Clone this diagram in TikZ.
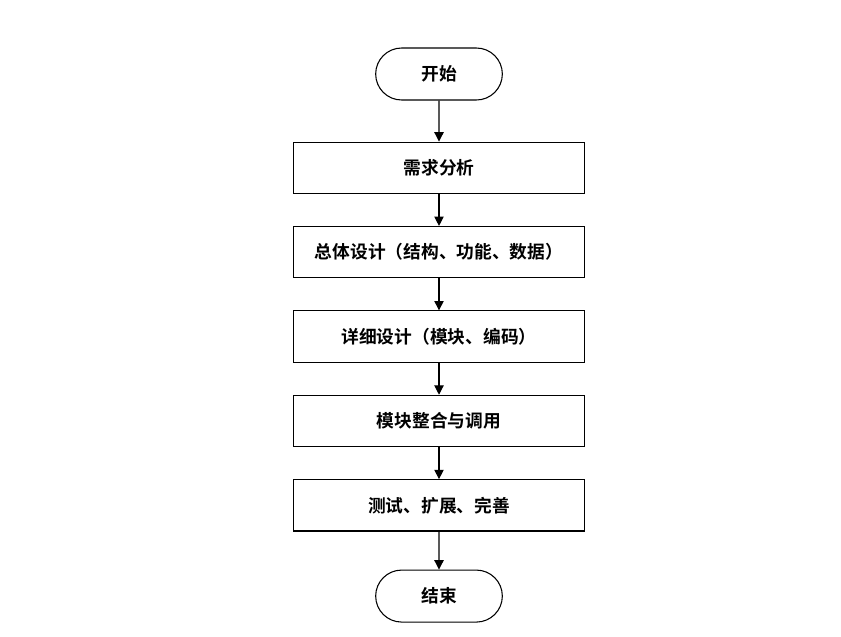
\documentclass[tikz,border=0pt]{standalone}
\usepackage{fontspec}
\newfontfamily\cjk{Noto Sans CJK SC}[BoldFont={Noto Sans CJK SC Bold}]
\usepackage{tikz}
\usetikzlibrary{positioning, arrows.meta, shapes.misc}

\tikzset{
	stepbox/.style={draw, thick, minimum width=218pt, minimum height=38.5pt, inner sep=0pt},
	terminal/.style={draw, thick, rounded rectangle, minimum width=95pt, minimum height=39pt, inner sep=0pt},
	flow/.style={thick, -{Triangle[length=7pt, width=7pt]}}
}

\begin{document}
\begin{tikzpicture}[x=0.75pt, y=-0.75pt, font=\cjk\bfseries\fontsize{13.3pt}{15pt}\selectfont]
	\useasboundingbox (0,0) rectangle (841,636);
	\node[terminal] (start) at (439,74) {开始};
	\node[stepbox, below=30.75pt of start] (req) {需求分析};
	\node[stepbox, below=24pt of req] (overall) {总体设计（结构、功能、数据）};
	\node[stepbox, below=24pt of overall] (detail) {详细设计（模块、编码）};
	\node[stepbox, below=24pt of detail] (merge) {模块整合与调用};
	\node[stepbox, below=24pt of merge] (test) {测试、扩展、完善};
	\node[terminal, below=28.5pt of test] (end) {结束};
	
	\draw[flow] (start) -- (req);
	\draw[flow] (req) -- (overall);
	\draw[flow] (overall) -- (detail);
	\draw[flow] (detail) -- (merge);
	\draw[flow] (merge) -- (test);
	\draw[flow] (test) -- (end);
\end{tikzpicture}
\end{document}
